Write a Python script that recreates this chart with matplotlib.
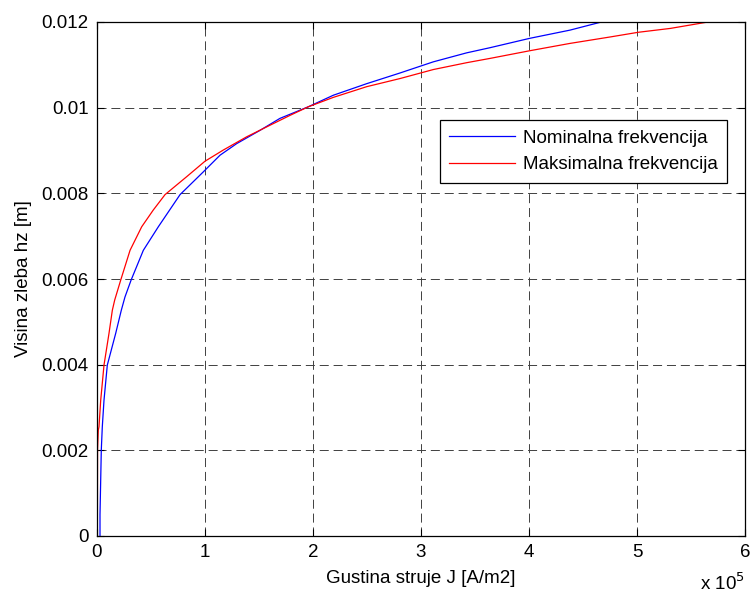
import matplotlib
matplotlib.use("Agg")
import matplotlib.pyplot as plt
from matplotlib.ticker import FuncFormatter

plt.rcParams['font.family'] = ['Liberation Sans', 'DejaVu Sans']
plt.rcParams['lines.scale_dashes'] = False

# Nominalna frekvencija (blue)
nom_J = [2780, 2780, 3980, 4910, 6480, 9540, 17300, 22500, 25900, 31500, 42900,
         56800, 76900, 98400, 113900, 129300, 150900, 169400, 195600, 218800,
         249700, 280600, 311400, 342300, 363900, 400900, 437900, 467000]
nom_h = [0.0, 0.0005, 0.00201, 0.00255, 0.00317, 0.00399, 0.00473, 0.00527, 0.00558,
         0.00597, 0.00667, 0.00722, 0.00797, 0.0085, 0.00889, 0.00916, 0.00947,
         0.00975, 0.01002, 0.01029, 0.01056, 0.01081, 0.01107, 0.01128, 0.0114,
         0.01162, 0.01181, 0.0120]

# Maksimalna frekvencija (red)
max_J = [300, 500, 1200, 1850, 3430, 6480, 11100, 14200, 16400, 21900, 30600,
         41400, 52100, 63000, 83100, 100000, 116900, 138600, 160200, 178700,
         195600, 218800, 249700, 280600, 311400, 342300, 363900, 400900, 437900,
         475000, 501200, 530800, 565700]
max_h = [0.0, 0.00201, 0.00247, 0.00255, 0.00317, 0.00399, 0.00473, 0.00527, 0.00551,
         0.00597, 0.00667, 0.00722, 0.00761, 0.00797, 0.00839, 0.00875, 0.00901,
         0.00932, 0.00959, 0.00982, 0.01002, 0.01024, 0.01049, 0.01068, 0.01089,
         0.01105, 0.01115, 0.01133, 0.0115, 0.01165, 0.01176, 0.01185, 0.0120]

xticks = [0, 1e5, 2e5, 3e5, 4e5, 5e5, 6e5]
yticks = [0, 0.002, 0.004, 0.006, 0.008, 0.01, 0.012]
ytick_labels = ['0', '0.002', '0.004', '0.006', '0.008', '0.01', '0.012']

FS = 13.5

fig = plt.figure(figsize=(7.55, 5.96), dpi=100)
ax = fig.add_axes([97/755, 60/596, 648/755, 514/596])

ax.plot(nom_J, nom_h, color='#0000ff', lw=0.9, label='Nominalna frekvencija')
ax.plot(max_J, max_h, color='#ff0000', lw=0.9, label='Maksimalna frekvencija')

ax.set_xlim(0, 6e5)
ax.set_ylim(0, 0.012)
ax.set_xticks(xticks)
ax.xaxis.set_major_formatter(FuncFormatter(lambda v, p: f'{v/1e5:g}'))
ax.set_yticks(yticks)
ax.set_yticklabels(ytick_labels)

ax.grid(True, color='#404040', lw=0.7, linestyle=(0, (6.5, 3.5)))
ax.tick_params(direction='in', length=5, width=0.8, top=True, right=True,
               labelsize=FS, colors='black', pad=6)
for s in ax.spines.values():
    s.set_linewidth(0.9)

ax.set_xlabel('Gustina struje J [A/m2]', fontsize=FS)
ax.xaxis.set_label_coords(0.5, -0.066)
ax.set_ylabel('Visina zleba hz [m]', fontsize=FS)
ax.yaxis.set_label_coords(-0.1, 0.5)

fig.text(745/755, (596-590)/596, r'x 10$^{5}$', ha='right', va='baseline', fontsize=FS)

leg = ax.legend(loc='upper left', bbox_to_anchor=(0.529, 0.809), fontsize=FS,
                frameon=True, fancybox=False, edgecolor='black', framealpha=1,
                handlelength=3.5, borderpad=0.5, labelspacing=0.5, handletextpad=0.45,
                borderaxespad=0)
leg.get_frame().set_linewidth(0.9)

fig.savefig('out.png', dpi=100)
